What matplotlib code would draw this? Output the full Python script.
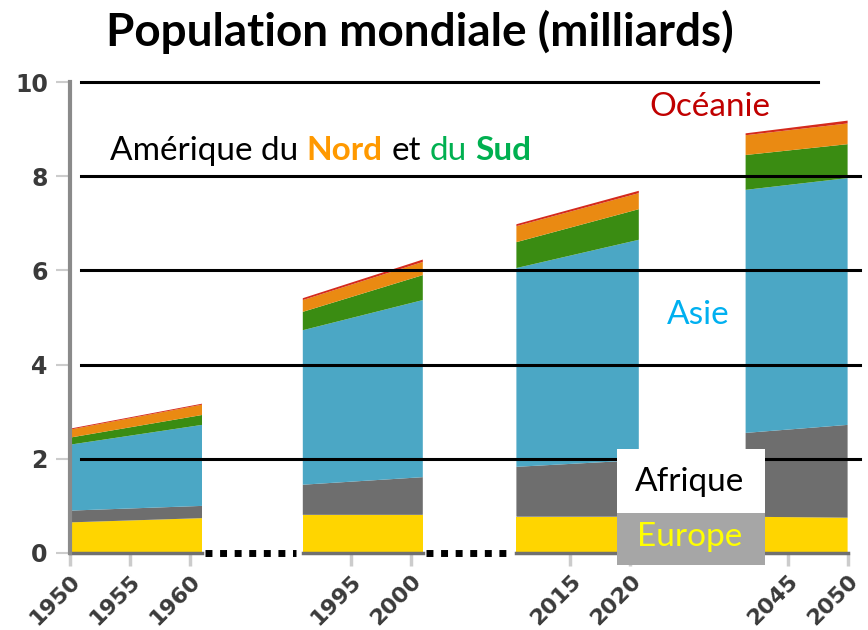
import numpy as np
import matplotlib.pyplot as plt
from matplotlib.patches import Rectangle

# Données (milliards d'habitants), deux points par tronçon
annees = [[1950, 1961], [1991, 2001], [2010.5, 2020.7], [2041.5, 2050]]
# décalage de chaque tronçon pour les rapprocher sur l'axe horizontal
decalages = [1950, 1971.6, 1973.3, 1985.2]

europe = [[0.65, 0.74], [0.81, 0.81], [0.77, 0.77], [0.77, 0.75]]
afrique = [[0.25, 0.26], [0.64, 0.80], [1.06, 1.20], [1.78, 1.97]]
asie = [[1.40, 1.72], [3.28, 3.76], [4.22, 4.68], [5.16, 5.24]]
amerique_sud = [[0.15, 0.21], [0.39, 0.53], [0.55, 0.65], [0.74, 0.72]]
amerique_nord = [[0.17, 0.22], [0.25, 0.28], [0.34, 0.34], [0.42, 0.44]]
oceanie = [[0.02, 0.02], [0.04, 0.05], [0.04, 0.05], [0.04, 0.06]]

couleurs = ["#FFD500", "#6E6E6E", "#4BA7C5", "#3A8C12", "#EA8A12", "#D42A1C"]

annees_ticks = [1950, 1955, 1960, 1995, 2000, 2015, 2020, 2045, 2050]
troncon_ticks = [0, 0, 0, 1, 1, 2, 2, 3, 3]
niveaux = [2, 4, 6, 8, 10]

W, H = 868, 630
fig = plt.figure(figsize=(W / 100, H / 100), dpi=100)
ax = fig.add_axes([70 / W, 77 / H, 792 / W, 471 / H])

# Les aires empilées, tronçon par tronçon
for i in range(len(annees)):
    u = np.array(annees[i]) - decalages[i]
    ax.stackplot(u, europe[i], afrique[i], asie[i], amerique_sud[i],
                 amerique_nord[i], oceanie[i], colors=couleurs, lw=0, zorder=2)
    ax.plot(u, [0, 0], color="#707070", lw=2.5, clip_on=False, zorder=3)

# Pointillés entre les tronçons
for i in range(2):
    debut = annees[i][-1] - decalages[i] + 0.25
    fin = annees[i + 1][0] - decalages[i + 1] - 0.6
    ax.plot([debut, fin], [0, 0], color="black", lw=5, ls=(0, (1, 1.1)),
            clip_on=False, zorder=3)

# Lignes horizontales noires
for n in niveaux:
    fin = 62.3 if n == 10 else 65.8
    ax.plot([0.9, fin], [n, n], color="black", lw=2.2, zorder=4, clip_on=False)

ax.set_xlim(0, 66)
ax.set_ylim(0, 10)
for cote in ["top", "right", "bottom"]:
    ax.spines[cote].set_visible(False)
ax.spines["left"].set_color("#8a8a8a")
ax.spines["left"].set_linewidth(3)
ax.spines["left"].set_zorder(5)

ax.set_yticks([0] + niveaux)
ax.set_yticklabels([str(v) for v in [0] + niveaux], fontsize=17,
                   fontweight="bold", color="#3a3a3a")
ax.tick_params(axis="y", color="#cccccc", length=10, width=1.5, pad=6)

pos_ticks = [a - decalages[t] for a, t in zip(annees_ticks, troncon_ticks)]
ax.set_xticks(pos_ticks)
ax.set_xticklabels([str(a) for a in annees_ticks], rotation=45, ha="right",
                   rotation_mode="anchor", fontsize=16, fontweight="bold",
                   color="#3a3a3a")
ax.tick_params(axis="x", color="#cccccc", length=9, width=2.5, pad=4)

# Titre
fig.text(420 / W, 1 - 32 / H, "Population mondiale (milliards)", ha="center",
         va="center", fontsize=33, fontweight="bold", family="Lato")

# Texte multicolore "Amérique du Nord et du Sud"
rend = fig.canvas.get_renderer()
taille = 24
t1 = fig.text(0, 0, "x x", fontsize=taille, family="Lato")
t2 = fig.text(0, 0, "xx", fontsize=taille, family="Lato")
espace = t1.get_window_extent(rend).width - t2.get_window_extent(rend).width
t1.remove()
t2.remove()
morceaux = [("Amérique du", "black", "normal"), ("Nord", "#FF9900", "bold"),
            ("et", "black", "normal"), ("du", "#00B050", "normal"),
            ("Sud", "#00B050", "bold")]
x = 110
for s, c, g in morceaux:
    t = fig.text(x / W, 1 - 160 / H, s, color=c, fontsize=taille,
                 fontweight=g, family="Lato", va="baseline")
    x += t.get_window_extent(rend).width + espace

fig.text(710 / W, 1 - 107 / H, "Océanie", color="#C00000", fontsize=24,
         family="Lato", ha="center", va="center")
fig.text(698 / W, 1 - 315 / H, "Asie", color="#00B0F0", fontsize=24,
         family="Lato", ha="center", va="center")

# Boîtes Afrique / Europe
ax.add_patch(Rectangle((45.6, 0.85), 12.3, 1.36, facecolor="white",
                       edgecolor="none", zorder=6, clip_on=False))
ax.add_patch(Rectangle((45.6, -0.25), 12.3, 1.10, facecolor="#A6A6A6",
                       edgecolor="none", zorder=6, clip_on=False))
fig.text(690 / W, 1 - 482 / H, "Afrique", color="black", fontsize=24,
         family="Lato", ha="center", va="center", zorder=7)
fig.text(690 / W, 1 - 537 / H, "Europe", color="#FFFF00", fontsize=24,
         family="Lato", ha="center", va="center", zorder=7)

fig.savefig("out.png", dpi=100)
